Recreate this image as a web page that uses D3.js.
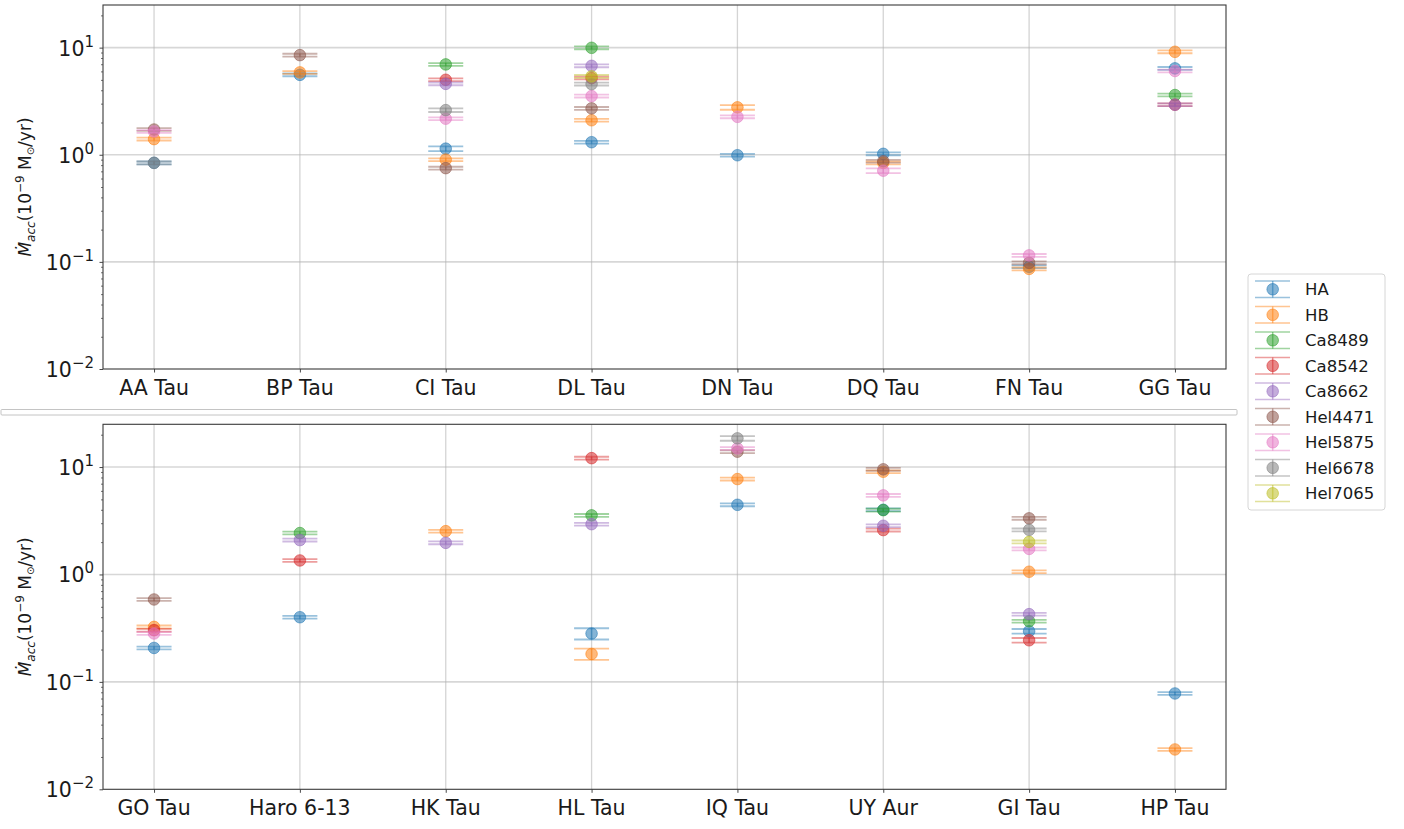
<!DOCTYPE html>
<html>
<head>
<meta charset="utf-8">
<script src="https://cdn.jsdelivr.net/npm/d3@7"></script>
<style>
  body { margin: 0; background: #fff; }
  text { font-family: "DejaVu Sans", sans-serif; fill: #1a1a1a; }
</style>
</head>
<body>
<svg id="chart" width="1404" height="829"></svg>
<script>
const species = ['HA', 'HB', 'Ca8489', 'Ca8542', 'Ca8662', 'Hel4471', 'Hel5875', 'Hel6678', 'Hel7065'];
const colors = ['#1f77b4', '#ff7f0e', '#2ca02c', '#d62728', '#9467bd', '#8c564b', '#e377c2', '#7f7f7f', '#bcbd22'];

const starsTop = ['AA Tau', 'BP Tau', 'CI Tau', 'DL Tau', 'DN Tau', 'DQ Tau', 'FN Tau', 'GG Tau'];
const starsBottom = ['GO Tau', 'Haro 6-13', 'HK Tau', 'HL Tau', 'IQ Tau', 'UY Aur', 'GI Tau', 'HP Tau'];

// accretion rates (1e-9 Msun/yr), one value per star, null = not measured
const topHA      = [0.84, 5.57, 1.14, 1.31, 0.99, 1.02, 0.090, 6.40];
const topHB      = [1.40, 5.87, 0.90, 2.10, 2.77, 0.84, 0.086, 9.14];
const topCa8489  = [null, null, 6.97, 9.96, null, null, null, 3.61];
const topCa8542  = [null, null, 5.01, 5.20, null, null, null, 2.93];
const topCa8662  = [null, null, 4.59, 6.76, null, null, null, 2.93];
const topHel4471 = [1.72, 8.51, 0.75, 2.71, null, 0.87, 0.098, null];
const topHel5875 = [1.65, null, 2.17, 3.53, 2.26, 0.71, 0.115, 6.05];
const topHel6678 = [0.84, null, 2.61, 4.57, null, null, null, null];
const topHel7065 = [null, null, null, 5.39, null, null, null, null];

const botHA      = [0.207, 0.40, null, 0.282, 4.45, 4.00, 0.296, 0.078];
const botHB      = [0.325, null, 2.53, 0.182, 7.73, 9.04, 1.06, 0.0235];
const botCa8489  = [null, 2.43, null, 3.55, null, 3.97, 0.367, null];
const botCa8542  = [0.303, 1.35, null, 12.1, null, 2.59, 0.244, null];
const botCa8662  = [null, 2.09, 1.97, 2.94, null, 2.84, 0.427, null];
const botHel4471 = [0.585, null, null, null, 13.9, 9.52, 3.33, null];
const botHel5875 = [0.282, null, null, null, 14.9, 5.45, 1.73, null];
const botHel6678 = [null, null, null, null, 18.5, null, 2.60, null];
const botHel7065 = [null, null, null, null, null, null, 2.01, null];

// relative errors that are larger than the usual ~3%
const defaultErr = 0.03;
const bigErrors = [
  ['bottom', 'HL Tau', 'HA', 0.12],
  ['bottom', 'HL Tau', 'HB', 0.12],
  ['bottom', 'GI Tau', 'HA', 0.05],
  ['bottom', 'GI Tau', 'Ca8542', 0.05],
  ['bottom', 'IQ Tau', 'Hel6678', 0.05],
  ['top', 'CI Tau', 'HA', 0.05],
  ['top', 'CI Tau', 'Hel6678', 0.04],
  ['top', 'DQ Tau', 'Hel5875', 0.05],
  ['top', 'DN Tau', 'HB', 0.05]
];

const topValues = [topHA, topHB, topCa8489, topCa8542, topCa8662, topHel4471, topHel5875, topHel6678, topHel7065];
const botValues = [botHA, botHB, botCa8489, botCa8542, botCa8662, botHel4471, botHel5875, botHel6678, botHel7065];

const svg = d3.select('#chart');
const left = 103, right = 1226;

function relErr(panel, star, sp) {
  const hit = bigErrors.find(e => e[0] === panel && e[1] === star && e[2] === sp);
  return hit ? hit[3] : defaultErr;
}

function drawPanel(name, stars, values, top, bottom) {
  const g = svg.append('g');
  const x = d3.scaleLinear().domain([-0.35, stars.length - 1 + 0.35]).range([left, right]);
  const y = d3.scaleLog().domain([0.01, 25]).range([bottom, top]);

  // grid
  g.selectAll('.vgrid').data(stars).enter().append('line')
    .attr('x1', (d, i) => x(i)).attr('x2', (d, i) => x(i))
    .attr('y1', top).attr('y2', bottom)
    .attr('stroke', '#b0b0b0').attr('stroke-opacity', 0.55).attr('stroke-width', 1.3);
  g.selectAll('.hgrid').data([0.1, 1, 10]).enter().append('line')
    .attr('x1', left).attr('x2', right)
    .attr('y1', d => y(d)).attr('y2', d => y(d))
    .attr('stroke', '#b0b0b0').attr('stroke-opacity', 0.5).attr('stroke-width', 1.6);

  // y axis: major + minor ticks
  const minors = [];
  for (let k = -2; k <= 1; k++) {
    for (let m = 2; m <= 9; m++) {
      const v = m * Math.pow(10, k);
      if (v <= 25) minors.push(v);
    }
  }
  g.append('g').attr('transform', `translate(${left},0)`)
    .call(d3.axisLeft(y).tickValues(minors).tickSize(2).tickFormat(''))
    .call(a => a.select('.domain').remove())
    .call(a => a.selectAll('line').attr('stroke', '#333').attr('stroke-width', 0.7));
  g.append('g').attr('transform', `translate(${left},0)`)
    .call(d3.axisLeft(y).tickValues([0.01, 0.1, 1, 10]).tickSize(3.5).tickFormat(''))
    .call(a => a.select('.domain').remove())
    .call(a => a.selectAll('line').attr('stroke', '#333').attr('stroke-width', 0.9));

  const expLabels = [[0.01, '\u22122'], [0.1, '\u22121'], [1, '0'], [10, '1']];
  expLabels.forEach(([v, e]) => {
    const t = g.append('text').attr('x', 94).attr('y', y(v) + 8)
      .attr('text-anchor', 'end').style('font-size', '20.5px');
    t.append('tspan').text('10');
    t.append('tspan').attr('dy', -9).style('font-size', '15px').text(e);
  });

  // x axis
  g.append('g').attr('transform', `translate(0,${bottom})`)
    .call(d3.axisBottom(x).tickValues(d3.range(stars.length)).tickSize(3.5).tickFormat(''))
    .call(a => a.select('.domain').remove())
    .call(a => a.selectAll('line').attr('stroke', '#333').attr('stroke-width', 0.9));
  g.selectAll('.xlab').data(stars).enter().append('text')
    .attr('x', (d, i) => x(i)).attr('y', bottom + 26)
    .attr('text-anchor', 'middle').style('font-size', '20.5px')
    .text(d => d);

  // y label
  const ly = g.append('text')
    .attr('transform', `translate(31,${(top + bottom) / 2}) rotate(-90)`)
    .attr('text-anchor', 'middle').style('font-size', '17px');
  ly.append('tspan').style('font-style', 'italic').text('\u1E40');
  ly.append('tspan').attr('dy', 4).style('font-size', '12px').style('font-style', 'italic').text('acc');
  ly.append('tspan').attr('dy', -4).text('(10');
  ly.append('tspan').attr('dy', -7).style('font-size', '12px').text('\u22129');
  ly.append('tspan').attr('dy', 7).text(' M');
  ly.append('tspan').attr('dy', 3).style('font-size', '10px').text('\u2299');
  ly.append('tspan').attr('dy', -3).text('/yr)');

  // error bars + markers, species in plotting order
  values.forEach((vals, k) => {
    const c = colors[k];
    const sg = g.append('g');
    vals.forEach((v, i) => {
      if (v == null) return;
      const e = v * relErr(name, stars[i], species[k]);
      const cx = x(i), lo = y(v - e), hi = y(v + e);
      sg.append('line').attr('x1', cx).attr('x2', cx).attr('y1', lo).attr('y2', hi)
        .attr('stroke', c).attr('stroke-opacity', 0.5).attr('stroke-width', 1.5);
      [lo, hi].forEach(cy => {
        sg.append('line').attr('x1', cx - 17.5).attr('x2', cx + 17.5).attr('y1', cy).attr('y2', cy)
          .attr('stroke', c).attr('stroke-opacity', 0.45).attr('stroke-width', 1.8);
      });
      sg.append('circle').attr('cx', cx).attr('cy', y(v)).attr('r', 5.8)
        .attr('fill', c).attr('fill-opacity', 0.55)
        .attr('stroke', c).attr('stroke-opacity', 0.55).attr('stroke-width', 1);
    });
  });

  // spines
  g.append('rect').attr('x', left).attr('y', top).attr('width', right - left).attr('height', bottom - top)
    .attr('fill', 'none').attr('stroke', '#3a3a3a').attr('stroke-width', 1.1);
}

drawPanel('top', starsTop, topValues, 5, 369);
drawPanel('bottom', starsBottom, botValues, 424.3, 789.3);

// separator between the two outputs
svg.append('rect').attr('x', 1).attr('y', 409.5).attr('width', 1236).attr('height', 5.5)
  .attr('rx', 1).attr('fill', 'none').attr('stroke', '#c4c4c4').attr('stroke-width', 1);

// legend
const lg = svg.append('g');
lg.append('rect').attr('x', 1248).attr('y', 274).attr('width', 137).attr('height', 236)
  .attr('rx', 3).attr('fill', '#fff').attr('stroke', '#d6d6d6').attr('stroke-width', 1);
species.forEach((sp, k) => {
  const cy = 289.3 + 25.5 * k, cx = 1272.7, c = colors[k];
  lg.append('line').attr('x1', cx).attr('x2', cx).attr('y1', cy - 8.3).attr('y2', cy + 8.3)
    .attr('stroke', c).attr('stroke-opacity', 0.5).attr('stroke-width', 1.5);
  [cy - 8.3, cy + 8.3].forEach(yy => {
    lg.append('line').attr('x1', 1255).attr('x2', 1290).attr('y1', yy).attr('y2', yy)
      .attr('stroke', c).attr('stroke-opacity', 0.45).attr('stroke-width', 1.5);
  });
  lg.append('circle').attr('cx', cx).attr('cy', cy).attr('r', 5.8)
    .attr('fill', c).attr('fill-opacity', 0.55)
    .attr('stroke', c).attr('stroke-opacity', 0.55).attr('stroke-width', 1);
  lg.append('text').attr('x', 1305).attr('y', cy + 6).style('font-size', '16.5px').text(sp);
});
</script>
</body>
</html>
